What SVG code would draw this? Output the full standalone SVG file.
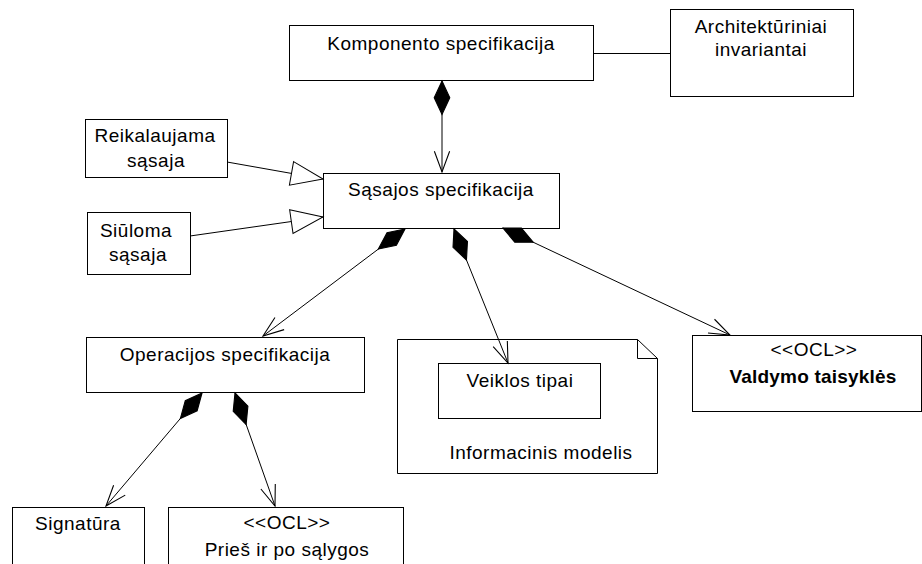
<svg xmlns="http://www.w3.org/2000/svg" width="922" height="564" viewBox="0 0 922 564">
  <style>
    .box { fill: #ffffff; stroke: #000000; stroke-width: 1; }
    .lbl { font-family: "Liberation Sans", Arial, sans-serif; font-size: 19px; letter-spacing: 0.5px; fill: #000000; text-anchor: middle; }
    .bold { font-weight: bold; letter-spacing: 0.2px; }
    .edge { fill: none; stroke: #000000; stroke-width: 1; }
    .comp { marker-start: url(#diamond); marker-end: url(#open); }
    .gen { marker-end: url(#hollow); }
  </style>
  <defs>
    <!-- filled composition diamond at the whole end -->
    <marker id="diamond" markerUnits="userSpaceOnUse" markerWidth="40" markerHeight="20" viewBox="-2 -9 34 18" refX="0" refY="0" orient="auto" overflow="visible">
      <path d="M0,0 L15,-7 L30,0 L15,7 Z" fill="#000000" stroke="#000000" stroke-width="1"/>
    </marker>
    <!-- open navigation arrowhead -->
    <marker id="open" markerUnits="userSpaceOnUse" markerWidth="24" markerHeight="20" viewBox="-21 -9 22 18" refX="0" refY="0" orient="auto" overflow="visible">
      <path d="M-19,-7 L0,0 L-19,7" fill="none" stroke="#000000" stroke-width="1"/>
    </marker>
    <!-- hollow generalization triangle -->
    <marker id="hollow" markerUnits="userSpaceOnUse" markerWidth="36" markerHeight="28" viewBox="-34 -14 35 28" refX="0" refY="0" orient="auto" overflow="visible">
      <path d="M-32,-12 L0,0 L-32,12 Z" fill="#ffffff" stroke="#000000" stroke-width="1"/>
    </marker>
  </defs>

  <g id="komponento">
    <rect class="box" x="289.5" y="25.5" width="304" height="55"/>
    <text class="lbl" x="441" y="50">Komponento specifikacija</text>
  </g>

  <g id="architekturiniai">
    <rect class="box" x="670.5" y="9.5" width="183" height="87"/>
    <text class="lbl" x="761" y="33">Architektūriniai</text>
    <text class="lbl" x="761" y="56">invariantai</text>
  </g>

  <g id="reikalaujama">
    <rect class="box" x="85.5" y="119.5" width="142" height="58"/>
    <text class="lbl" x="155" y="142">Reikalaujama</text>
    <text class="lbl" x="156" y="166.5">sąsaja</text>
  </g>

  <g id="siuloma">
    <rect class="box" x="87.5" y="212.5" width="103" height="62"/>
    <text class="lbl" x="136" y="236.5">Siūloma</text>
    <text class="lbl" x="138" y="260.5">sąsaja</text>
  </g>

  <g id="sasajos">
    <rect class="box" x="323.5" y="173.5" width="236" height="55"/>
    <text class="lbl" x="441" y="196">Sąsajos specifikacija</text>
  </g>

  <g id="operacijos">
    <rect class="box" x="86.5" y="337.5" width="278" height="55"/>
    <text class="lbl" x="225" y="361">Operacijos specifikacija</text>
  </g>

  <g id="informacinis-modelis">
    <path class="box" d="M397.5,339.5 H637.5 L657.5,358.5 V473.5 H397.5 Z"/>
    <path class="edge" d="M637.5,339.5 V358.5 H657.5"/>
    <text class="lbl" x="541" y="459">Informacinis modelis</text>
  </g>

  <g id="veiklos-tipai">
    <rect class="box" x="438.5" y="363.5" width="162" height="55"/>
    <text class="lbl" x="520" y="387">Veiklos tipai</text>
  </g>

  <g id="valdymo-taisykles">
    <rect class="box" x="692.5" y="335.5" width="229" height="76"/>
    <text class="lbl" x="814" y="355.5">&lt;&lt;OCL&gt;&gt;</text>
    <text class="lbl bold" x="813" y="383">Valdymo taisyklės</text>
  </g>

  <g id="signatura">
    <rect class="box" x="12.5" y="507.5" width="132" height="70"/>
    <text class="lbl" x="78" y="530">Signatūra</text>
  </g>

  <g id="pries-po-salygos">
    <rect class="box" x="168.5" y="507.5" width="235" height="70"/>
    <text class="lbl" x="287" y="529">&lt;&lt;OCL&gt;&gt;</text>
    <text class="lbl" x="287" y="556">Prieš ir po sąlygos</text>
  </g>

  <!-- connectors drawn last so they lie over the package note -->
  <g id="connectors">
    <line class="edge" x1="593" y1="53.5" x2="670" y2="53.5"/>
    <line class="edge comp" x1="442" y1="81" x2="442" y2="172"/>
    <line class="edge gen" x1="227" y1="162" x2="323" y2="179"/>
    <line class="edge gen" x1="190" y1="236" x2="323" y2="217"/>
    <line class="edge comp" x1="405" y1="229" x2="263" y2="336"/>
    <line class="edge comp" x1="454" y1="229" x2="508" y2="363"/>
    <line class="edge comp" x1="503" y1="228" x2="730" y2="335"/>
    <line class="edge comp" x1="202" y1="393" x2="106" y2="506"/>
    <line class="edge comp" x1="235" y1="393" x2="275" y2="506"/>
  </g>
</svg>
